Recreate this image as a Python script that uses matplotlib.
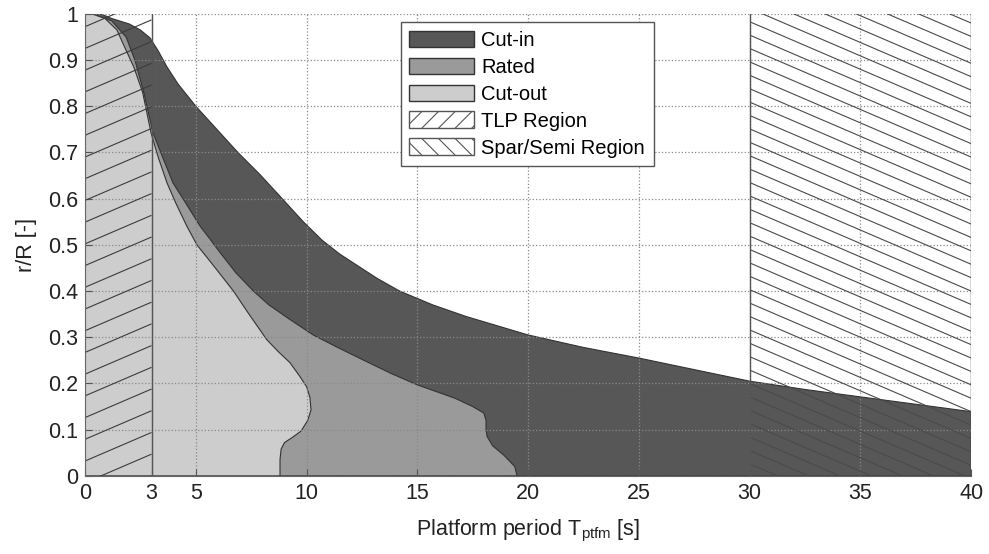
import numpy as np
import matplotlib
matplotlib.use("Agg")
from matplotlib import pyplot as plt
from matplotlib.patches import Polygon, Rectangle, Patch
from matplotlib.collections import LineCollection

plt.rcParams['font.family'] = ['Liberation Sans', 'DejaVu Sans']
plt.rcParams['mathtext.default'] = 'regular'
plt.rcParams['hatch.linewidth'] = 0.8

# boundary curves, platform period [s] vs r/R [-]
cutin_T = [40, 37.5, 35, 32.5, 30, 27.5, 25, 22.5, 20, 17.2, 15.7, 14.2, 13.2, 12.3, 11.5, 10.7, 9.85, 8.9, 7.9,
           6.9, 5.95, 5.0, 4.2, 3.7, 3.3, 2.93, 2.5, 2.0, 1.2, 0.7, 0.25]
cutin_r = [0.139, 0.155, 0.171, 0.187, 0.205, 0.23, 0.255, 0.278, 0.305, 0.345, 0.37, 0.40, 0.427, 0.455, 0.48, 0.51, 0.55, 0.60, 0.652,
           0.70, 0.75, 0.80, 0.848, 0.885, 0.92, 0.948, 0.965, 0.978, 0.99, 1.0, 1.0]

rated_T = [19.5, 19.4, 18.9, 18.4, 18.15, 18.1, 18.1, 18.0, 17.5, 16.7, 15.0, 13.8, 12.55, 11.4, 10.3, 9.2, 8.3, 7.6,
           6.8, 6.1, 5.6, 5.2, 4.55, 3.97, 3.5, 3.07, 2.65, 2.25, 1.85, 1.2, 0.3]
rated_r = [0.0, 0.02, 0.045, 0.065, 0.085, 0.10, 0.12, 0.136, 0.15, 0.168, 0.197, 0.222, 0.251, 0.278, 0.305, 0.34, 0.37, 0.40,
           0.44, 0.483, 0.515, 0.54, 0.59, 0.634, 0.69, 0.742, 0.83, 0.90, 0.95, 0.985, 1.0]

cutout_T = [8.8, 8.8, 8.85, 9.0, 9.35, 9.75, 10.05, 10.2, 10.15, 10.0, 9.7, 9.25, 8.7, 8.2, 7.4, 6.7, 5.8, 5.05, 4.6, 4.1,
            3.7, 3.3, 2.98, 2.6, 2.2, 1.7, 1.44, 0.9, 0.3]
cutout_r = [0.0, 0.035, 0.058, 0.072, 0.083, 0.097, 0.12, 0.143, 0.17, 0.193, 0.215, 0.245, 0.27, 0.295, 0.35, 0.40, 0.455, 0.50, 0.54, 0.59,
            0.634, 0.69, 0.742, 0.83, 0.885, 0.937, 0.965, 0.99, 1.0]

tlp_range = (0, 3)
spar_range = (30, 40)

x_ticks = [0, 3, 5, 10, 15, 20, 25, 30, 35, 40]
y_ticks = [0, 0.1, 0.2, 0.3, 0.4, 0.5, 0.6, 0.7, 0.8, 0.9, 1.0]
y_ticklabels = ['0', '0.1', '0.2', '0.3', '0.4', '0.5', '0.6', '0.7', '0.8', '0.9', '1']

colors = {'Cut-in': '#575757', 'Rated': '#9a9a9a', 'Cut-out': '#cdcdcd'}
edge = '#333333'


def region(T, r):
    # closed polygon between x=0 and the boundary curve
    T = list(T)
    r = list(r)
    if r[0] > r[-1]:
        T, r = T[::-1], r[::-1]
    pts = [(0, 0), (T[0], 0)] + list(zip(T, r)) + [(0, 1)]
    return pts


def hatch_lines(ax, x0, x1, slope, spacing, color):
    rect = Rectangle((x0, 0), x1 - x0, 1, facecolor='none', edgecolor='none', zorder=5)
    ax.add_patch(rect)
    for xv in (x0, x1):
        if xv > 0:
            ax.axvline(xv, color='#555555', lw=1.0, zorder=5)
    w = x1 - x0
    lo = -abs(slope) * w - spacing
    hi = 1 + abs(slope) * w + spacing
    segs = []
    for c in np.arange(lo, hi, spacing):
        segs.append([(x0, c), (x1, c + slope * w)])
    lc = LineCollection(segs, colors=color, linewidths=0.8, zorder=4)
    ax.add_collection(lc)
    lc.set_clip_path(rect)


fig, ax = plt.subplots(figsize=(9.89, 5.54), dpi=100)
fig.subplots_adjust(left=0.086, right=0.982, bottom=0.141, top=0.975)

for name, T, r in [('Cut-in', cutin_T, cutin_r), ('Rated', rated_T, rated_r), ('Cut-out', cutout_T, cutout_r)]:
    ax.add_patch(Polygon(region(T, r), closed=True, facecolor=colors[name], edgecolor=edge, lw=0.8,
                         joinstyle='round', zorder=2))

# TLP and spar/semi regions with MATLAB-like shallow hatch
hatch_lines(ax, tlp_range[0], tlp_range[1], 0.0206, 0.047, '#3c3c3c')
hatch_lines(ax, spar_range[0], spar_range[1], -0.0206, 0.029, '#4a4a4a')

ax.set_xlim(0, 40)
ax.set_ylim(0, 1)
ax.set_xticks(x_ticks)
ax.set_yticks(y_ticks)
ax.set_yticklabels(y_ticklabels)
ax.tick_params(direction='in', length=5, color='#555555', labelsize=15.5, labelcolor='#222222', pad=5)
ax.grid(True, linestyle=':', color='#8a8a8a', lw=0.9)
ax.set_axisbelow(False)
for s in ['top', 'right']:
    ax.spines[s].set_visible(False)
for s in ['left', 'bottom']:
    ax.spines[s].set_color('#666666')
    ax.spines[s].set_zorder(6)

ax.set_xlabel('Platform period T$_{ptfm}$ [s]', fontsize=15.5, color='#222222', labelpad=10)
ax.set_ylabel('r/R [-]', fontsize=15.5, color='#222222', labelpad=8)

handles = [
    Patch(facecolor=colors['Cut-in'], edgecolor=edge, label='Cut-in'),
    Patch(facecolor=colors['Rated'], edgecolor=edge, label='Rated'),
    Patch(facecolor=colors['Cut-out'], edgecolor=edge, label='Cut-out'),
    Patch(facecolor='white', edgecolor='#555555', hatch='//', label='TLP Region'),
    Patch(facecolor='white', edgecolor='#555555', hatch='\\\\', label='Spar/Semi Region'),
]
leg = ax.legend(handles=handles, loc='upper left', bbox_to_anchor=(0.356, 0.982), borderaxespad=0,
                fontsize=14.5, handlelength=3.25, handleheight=0.9, labelspacing=0.38,
                fancybox=False, framealpha=1, edgecolor='#555555', borderpad=0.42, handletextpad=0.35)
leg.set_zorder(10)
leg.get_frame().set_linewidth(1.0)

fig.savefig('out.png', dpi=100)
